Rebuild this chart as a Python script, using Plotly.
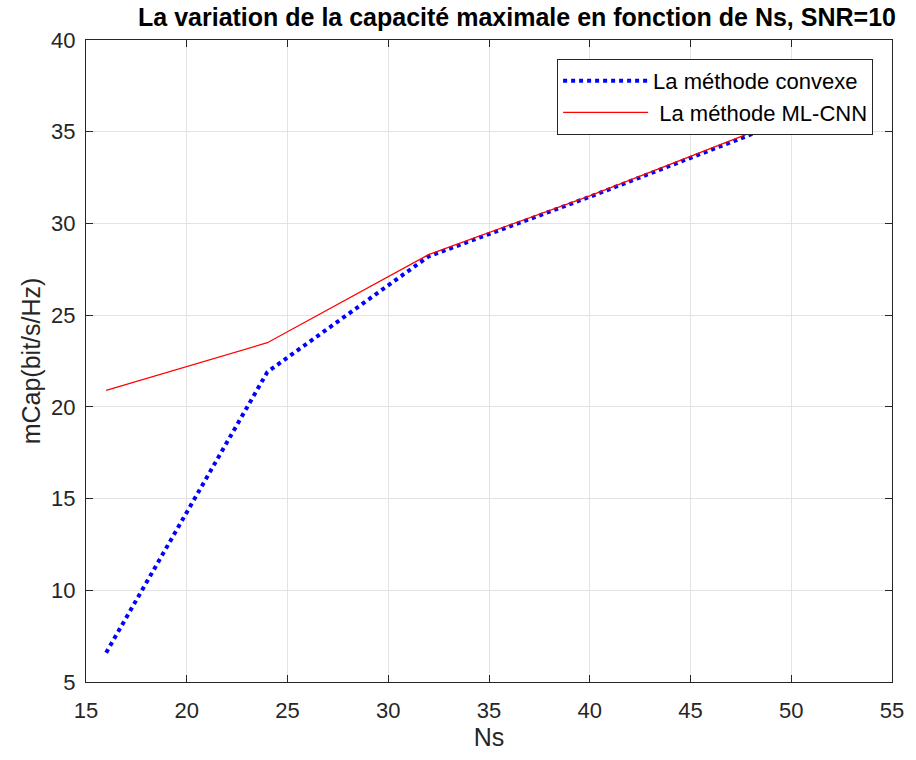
import plotly.graph_objects as go

ns = [16, 24, 32, 40, 48, 50]
cap_convexe = [6.6, 21.9, 28.2, 31.45, 34.85, 35.7]
cap_mlcnn = [20.9, 23.5, 28.3, 31.5, 34.95, 35.8]

x_ticks = [15, 20, 25, 30, 35, 40, 45, 50, 55]
y_ticks = [5, 10, 15, 20, 25, 30, 35, 40]

font_family = "Liberation Sans, Arial, sans-serif"

fig = go.Figure()
fig.add_trace(go.Scatter(
    x=ns, y=cap_convexe, mode="lines", name="La méthode convexe",
    line=dict(color="#0000ff", width=4, dash="dot"),
))
fig.add_trace(go.Scatter(
    x=ns, y=cap_mlcnn, mode="lines", name=" La méthode ML-CNN",
    line=dict(color="#ff0000", width=1.2),
))

axis_common = dict(
    showline=True, linecolor="#262626", linewidth=1.3, mirror="ticks",
    ticks="inside", ticklen=7, tickcolor="#262626", tickwidth=1.3,
    showgrid=True, gridcolor="#e3e3e3", gridwidth=1,
    zeroline=False,
    tickfont=dict(family=font_family, size=22, color="#262626"),
)

fig.update_layout(
    width=916, height=760,
    margin=dict(l=86, r=19, t=40, b=78),
    paper_bgcolor="white", plot_bgcolor="white",
    title=dict(
        text="<b>La variation de la capacité maximale en fonction de Ns, SNR=10</b>",
        x=517 / 916, xref="container", xanchor="center",
        y=1 - 17 / 760, yref="container", yanchor="middle",
        font=dict(family=font_family, size=25, color="black"),
    ),
    xaxis=dict(range=[15, 55], tickvals=x_ticks, **axis_common, ticklabelstandoff=8,
               title=dict(text="Ns", font=dict(family=font_family, size=25, color="#262626"), standoff=6)),
    yaxis=dict(range=[5, 40], tickvals=y_ticks, **axis_common, ticklabelstandoff=5,
               title=dict(text="mCap(bit/s/Hz)", font=dict(family=font_family, size=25, color="#262626"), standoff=3)),
    legend=dict(
        x=(878 - 86) / 811, y=(682 - 59) / 642, xanchor="right", yanchor="top",
        bgcolor="white", bordercolor="#262626", borderwidth=1,
        font=dict(family=font_family, size=22, color="black"),
        itemwidth=85, tracegroupgap=2,
    ),
    showlegend=True,
)

fig.write_html("out.html")
